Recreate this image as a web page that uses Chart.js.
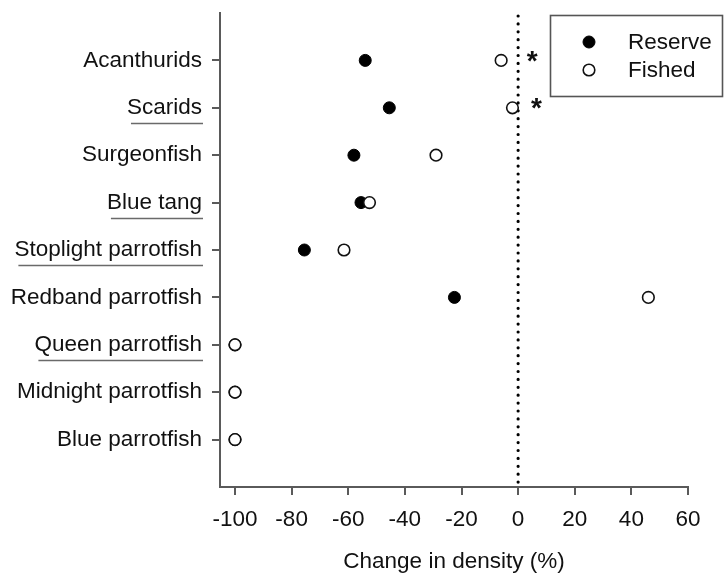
<!DOCTYPE html>
<html>
<head>
<meta charset="utf-8">
<script src="https://cdn.jsdelivr.net/npm/chart.js@4.4.1/dist/chart.umd.min.js"></script>
<style>
  html, body { margin: 0; padding: 0; background: #fff; }
</style>
</head>
<body>
<canvas id="chart" width="724" height="576"></canvas>
<script>
const species = ['Acanthurids', 'Scarids', 'Surgeonfish', 'Blue tang', 'Stoplight parrotfish',
  'Redband parrotfish', 'Queen parrotfish', 'Midnight parrotfish', 'Blue parrotfish'];
const reserveChange = [-54, -45.5, -58, -55.5, -75.5, -22.5, -100, -100, -100];
const fishedChange = [-6, -2, -29, -52.5, -61.5, 46, -100, -100, -100];
const xTicks = [-100, -80, -60, -40, -20, 0, 20, 40, 60];
const underlinedSpecies = ['Scarids', 'Blue tang', 'Stoplight parrotfish', 'Queen parrotfish'];
const significantSpecies = ['Acanthurids', 'Scarids'];
const significantX = [5, 6.5];

const fontFamily = "'Liberation Sans', Arial, sans-serif";
const fontSize = 22.5;
const axisGrey = '#5a5a5a';
const textColor = '#111';

Chart.defaults.font.family = fontFamily;
Chart.defaults.font.size = fontSize;
Chart.defaults.color = textColor;

// dotted reference line at zero change
const zeroLine = {
  id: 'zeroLine',
  beforeDatasetsDraw(chart) {
    const { ctx, chartArea, scales: { x } } = chart;
    const px = x.getPixelForValue(0);
    ctx.save();
    ctx.strokeStyle = '#000';
    ctx.lineWidth = 3.2;
    ctx.lineCap = 'round';
    ctx.setLineDash([0, 7.9]);
    ctx.beginPath();
    ctx.moveTo(px, chartArea.top + 3);
    ctx.lineTo(px, chartArea.bottom);
    ctx.stroke();
    ctx.restore();
  }
};

// underline some of the species names
const labelUnderlines = {
  id: 'labelUnderlines',
  afterDraw(chart) {
    const { ctx, scales: { y } } = chart;
    const right = y.right - y.options.grid.tickLength - y.options.ticks.padding;
    ctx.save();
    ctx.font = `${fontSize}px ${fontFamily}`;
    ctx.strokeStyle = '#6a6a6a';
    ctx.lineWidth = 1.6;
    underlinedSpecies.forEach(name => {
      const i = species.indexOf(name);
      const py = Math.round(y.getPixelForValue(i) + 15) + 0.5;
      const w = ctx.measureText(name).width;
      ctx.beginPath();
      ctx.moveTo(right - w + 4, py);
      ctx.lineTo(right + 1, py);
      ctx.stroke();
    });
    ctx.restore();
  }
};

// significance asterisks
const asterisks = {
  id: 'asterisks',
  afterDatasetsDraw(chart) {
    const { ctx, scales: { x, y } } = chart;
    ctx.save();
    ctx.font = `bold 28px ${fontFamily}`;
    ctx.fillStyle = '#111';
    ctx.textAlign = 'center';
    ctx.textBaseline = 'alphabetic';
    significantSpecies.forEach((name, k) => {
      const px = x.getPixelForValue(significantX[k]);
      const py = y.getPixelForValue(species.indexOf(name));
      ctx.fillText('*', px, py + 9.5);
    });
    ctx.restore();
  }
};

// boxed legend in the top right corner
const boxLegend = {
  id: 'boxLegend',
  afterDraw(chart, args, opts) {
    const { ctx } = chart;
    const b = opts.box;
    ctx.save();
    ctx.strokeStyle = '#555';
    ctx.lineWidth = 1.6;
    ctx.strokeRect(b.left + 0.5, b.top + 0.5, b.right - b.left, b.bottom - b.top);
    ctx.font = `${fontSize}px ${fontFamily}`;
    ctx.fillStyle = textColor;
    ctx.textBaseline = 'middle';
    chart.data.datasets.forEach((ds, i) => {
      const cy = opts.rows[i];
      ctx.beginPath();
      ctx.arc(opts.markerX, cy, ds.pointRadius, 0, Math.PI * 2);
      ctx.fillStyle = ds.pointBackgroundColor;
      ctx.fill();
      ctx.lineWidth = ds.pointBorderWidth;
      ctx.strokeStyle = ds.pointBorderColor;
      ctx.stroke();
      ctx.fillStyle = textColor;
      ctx.fillText(ds.label, opts.textX, cy + 1);
    });
    ctx.restore();
  }
};

new Chart(document.getElementById('chart'), {
  type: 'scatter',
  data: {
    datasets: [
      {
        label: 'Reserve',
        data: reserveChange.map((v, i) => ({ x: v, y: i })),
        pointRadius: 6,
        pointBackgroundColor: '#000',
        pointBorderColor: '#000',
        pointBorderWidth: 1,
        order: 1
      },
      {
        label: 'Fished',
        data: fishedChange.map((v, i) => ({ x: v, y: i })),
        pointRadius: 5.8,
        pointBackgroundColor: '#fff',
        pointBorderColor: '#111',
        pointBorderWidth: 1.6,
        order: 0
      }
    ]
  },
  options: {
    responsive: false,
    devicePixelRatio: 1,
    animation: false,
    events: [],
    clip: false,
    layout: { padding: { top: 13, right: 36, left: 0, bottom: 0 } },
    scales: {
      x: {
        type: 'linear',
        min: -105.3,
        max: 60,
        afterBuildTicks: axis => { axis.ticks = xTicks.map(v => ({ value: v })); },
        afterFit: axis => {
          axis.height = 89;
          axis.paddingLeft = 0;
          axis.paddingRight = 0;
        },
        grid: { drawOnChartArea: false, tickLength: 8, color: axisGrey, lineWidth: 2 },
        border: { color: axisGrey, width: 2 },
        ticks: { color: textColor, padding: 11, maxRotation: 0, autoSkip: false },
        title: {
          display: true,
          text: 'Change in density (%)',
          color: textColor,
          font: { size: fontSize },
          padding: { top: 0, bottom: 1 }
        }
      },
      y: {
        type: 'linear',
        reverse: true,
        min: -1,
        max: 9,
        afterBuildTicks: axis => { axis.ticks = species.map((_, i) => ({ value: i })); },
        afterFit: axis => {
          axis.width = 220;
          axis.paddingTop = 0;
          axis.paddingBottom = 0;
        },
        grid: { drawOnChartArea: false, tickLength: 8, color: axisGrey, lineWidth: 2 },
        border: { color: axisGrey, width: 2 },
        ticks: {
          color: textColor,
          padding: 10,
          autoSkip: false,
          callback: v => species[v] ?? ''
        }
      }
    },
    plugins: {
      legend: { display: false },
      tooltip: { enabled: false },
      boxLegend: {
        box: { left: 550, top: 15, right: 722, bottom: 96 },
        markerX: 589,
        textX: 628,
        rows: [42, 70]
      }
    }
  },
  plugins: [zeroLine, labelUnderlines, asterisks, boxLegend]
});
</script>
</body>
</html>
